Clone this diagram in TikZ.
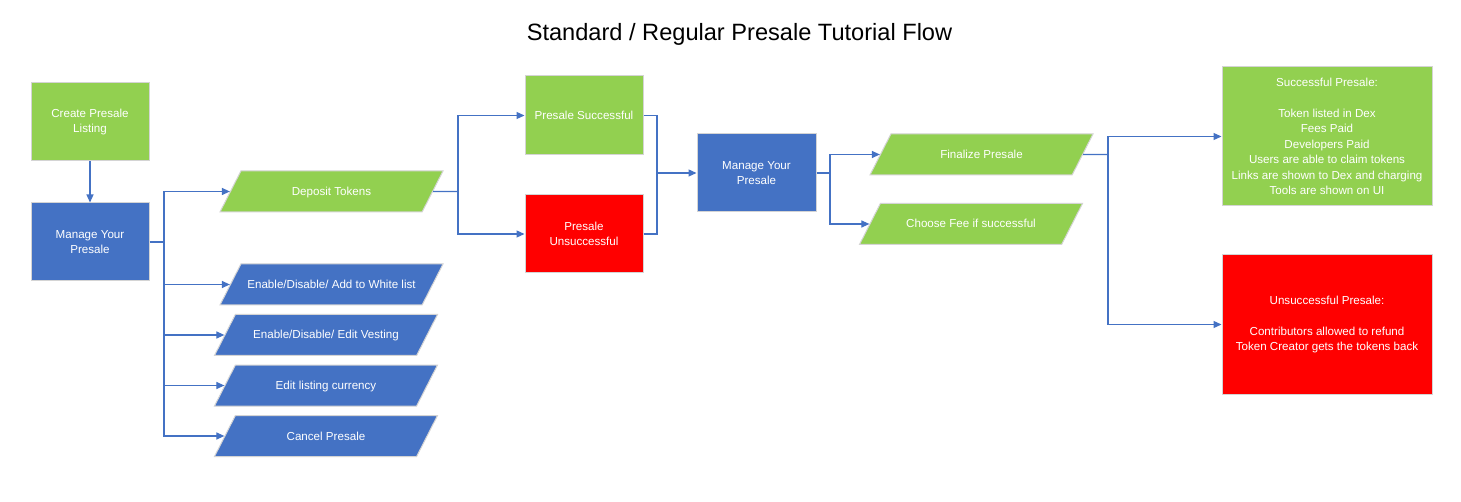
\documentclass[tikz,border=0pt]{standalone}
\usepackage{fontspec}
\setmainfont{Liberation Sans}
\usetikzlibrary{shapes.geometric,arrows.meta}
\definecolor{cgreen}{HTML}{92D050}
\definecolor{cblue}{HTML}{4472C4}
\definecolor{cred}{HTML}{FF0000}
\definecolor{cedge}{HTML}{D4D4D4}
\definecolor{cline}{HTML}{4472C4}
\tikzset{
  lbl/.style={font=\fontsize{11.6}{15.5}\selectfont, text=white, align=center},
  boxbase/.style={lbl, draw=cedge, line width=1pt, inner sep=2pt},
  gbox/.style={boxbase, rectangle, fill=cgreen},
  bbox/.style={boxbase, rectangle, fill=cblue},
  rbox/.style={boxbase, rectangle, fill=cred},
  para/.style={boxbase, trapezium, trapezium left angle=63, trapezium right angle=117,
    trapezium stretches body=true, text height=10pt, text depth=2pt,
    inner xsep=2pt, inner ysep=14.5pt, minimum width=223pt},
  gpara/.style={para, fill=cgreen},
  bpara/.style={para, fill=cblue},
  conn/.style={draw=cline, line width=1.2pt},
  arr/.style={conn, -{Triangle[length=8pt,width=7pt]}},
}
\begin{document}
\begin{tikzpicture}[x=1pt,y=-1pt]
\useasboundingbox[fill=white] (0,0) rectangle (1461,502);
\node[font=\fontsize{23.6}{28}\selectfont] (title) at (739.5,34) {Standard / Regular Presale Tutorial Flow};

\node[gbox, minimum width=118pt, minimum height=78pt] (create) at (90,122) {Create Presale\\Listing};
\node[bbox, minimum width=118pt, minimum height=78pt] (manage1) at (90,242) {Manage Your\\Presale};

\node[gpara] (deposit) at (331.5,191.5) {Deposit Tokens};
\node[bpara] (white) at (331.5,284.5) {Enable/Disable/ Add to White list};
\node[bpara] (vest) at (326,335) {Enable/Disable/ Edit Vesting};
\node[bpara] (curr) at (326,385.5) {Edit listing currency};
\node[bpara] (cancel) at (326,436) {Cancel Presale};

\node[gbox, minimum width=118pt, minimum height=79pt] (psucc) at (584,115.5) {Presale Successful};
\node[rbox, minimum width=118pt, minimum height=78pt] (punsucc) at (584,234) {Presale\\Unsuccessful};

\node[bbox, minimum width=119pt, minimum height=78pt] (manage2) at (756.5,173) {Manage Your\\Presale};

\node[gpara] (final) at (981.5,154.5) {Finalize Presale};
\node[gpara] (fee) at (971,224) {Choose Fee if successful};

\node[gbox, minimum width=210pt, minimum height=139pt] (succ) at (1327,136.5)
  {Successful Presale:\\[15.5pt]Token listed in Dex\\Fees Paid\\Developers Paid\\Users are able to claim tokens\\Links are shown to Dex and charging\\Tools are shown on UI};
\node[rbox, minimum width=210pt, minimum height=139pt] (unsucc) at (1327,324.5)
  {Unsuccessful Presale:\\[15.5pt]Contributors allowed to refund\\Token Creator gets the tokens back};

% connectors
\draw[arr] (create) -- (manage1);
\coordinate (j1) at (164,242);
\draw[conn] (manage1.east) -- (j1);
\draw[arr] (j1) |- (deposit.west);
\draw[arr] (j1) |- (white.west);
\draw[arr] (j1) |- (vest.west);
\draw[arr] (j1) |- (curr.west);
\draw[arr] (j1) |- (cancel.west);

\coordinate (j2) at (458,191.5);
\draw[conn] (deposit.east) -- (j2);
\draw[arr] (j2) |- (psucc.west);
\draw[arr] (j2) |- (punsucc.west);

\coordinate (j3) at (657,173);
\draw[conn] (psucc.east) -| (j3);
\draw[conn] (punsucc.east) -| (j3);
\draw[arr] (j3) -- (manage2.west);

\coordinate (j4) at (830,173);
\draw[conn] (manage2.east) -- (j4);
\draw[arr] (j4) |- (final.west);
\draw[arr] (j4) |- (fee.west);

\coordinate (j5) at (1108,154.5);
\draw[conn] (final.east) -- (j5);
\draw[arr] (j5) |- (succ.west);
\draw[arr] (j5) |- (unsucc.west);
\end{tikzpicture}
\end{document}
